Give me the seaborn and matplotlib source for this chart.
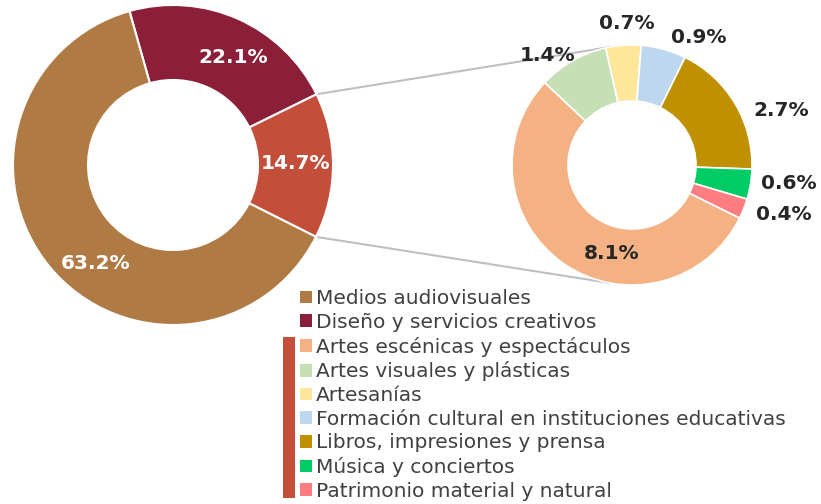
import numpy as np
import matplotlib
matplotlib.use("Agg")
import matplotlib.pyplot as plt
import seaborn as sns
from matplotlib.patches import Patch, Rectangle

# Main split (left donut), clockwise from the top
main_names = ["Diseño y servicios creativos", "Otros sectores", "Medios audiovisuales"]
main_values = [22.1, 14.7, 63.2]
main_colors = ["#8B1E38", "#C34F3B", "#B07A44"]

# Breakdown of the 14.7% slice (right donut), clockwise from upper left
sub_names = ["Artes visuales y plásticas", "Artesanías",
             "Formación cultural en instituciones educativas",
             "Libros, impresiones y prensa", "Música y conciertos",
             "Patrimonio material y natural", "Artes escénicas y espectáculos"]
sub_values = [1.4, 0.7, 0.9, 2.7, 0.6, 0.4, 8.1]
sub_colors = ["#C5E0B4", "#FFE699", "#BDD7EE", "#BF9000", "#00CC66",
              "#FF7C80", "#F4B183"]

legend_order = ["Medios audiovisuales", "Diseño y servicios creativos",
                "Artes escénicas y espectáculos", "Artes visuales y plásticas",
                "Artesanías", "Formación cultural en instituciones educativas",
                "Libros, impresiones y prensa", "Música y conciertos",
                "Patrimonio material y natural"]

sns.set_theme(style="white")
plt.rcParams["font.family"] = ["DejaVu Sans"]

W, H = 821, 504
fig = plt.figure(figsize=(W / 100, H / 100), dpi=100)
ax = fig.add_axes([0, 0, 1, 1])

left_c, left_r, left_w = (173, H - 165), 160, 75
right_c, right_r, right_w = (632, H - 165), 120, 56

wl, _ = ax.pie(main_values, colors=main_colors, startangle=105.8,
               counterclock=False, center=left_c, radius=left_r,
               wedgeprops=dict(width=left_w, edgecolor="white", linewidth=1.5))
wr, _ = ax.pie(sub_values, colors=sub_colors, startangle=136.7,
               counterclock=False, center=right_c, radius=right_r,
               wedgeprops=dict(width=right_w, edgecolor="white", linewidth=1.2))

ax.set_xlim(0, W)
ax.set_ylim(0, H)
ax.axis("off")

# connector lines from the 14.7% slice to the breakdown donut
other = wl[1]
for ang_l, ang_r in [(other.theta2, 100), (other.theta1, 260)]:
    a, b = np.deg2rad(ang_l), np.deg2rad(ang_r)
    x0 = left_c[0] + left_r * np.cos(a)
    y0 = left_c[1] + left_r * np.sin(a)
    x1 = right_c[0] + right_r * np.cos(b)
    y1 = right_c[1] + right_r * np.sin(b)
    ax.plot([x0, x1], [y0, y1], color="#BFBFBF", lw=1.5, zorder=0)

# labels inside the left ring (nudges in screen pixels, +y = down)
left_nudge = [(10, 4), (0, -2), (17, 20)]
for w, v, (dx, dy) in zip(wl, main_values, left_nudge):
    m = np.deg2rad((w.theta1 + w.theta2) / 2)
    rr = left_r - left_w / 2
    ax.text(left_c[0] + rr * np.cos(m) + dx, left_c[1] + rr * np.sin(m) - dy,
            f"{v:.1f}%", color="white", fontsize=14.5, fontweight="bold",
            ha="center", va="center")

# labels of the right donut
right_nudge = [(7, 11), (4, -4), (5, 5), (12, 11), (3, -2), (5, 3), (0, -1)]
for i, (w, v, (dx, dy)) in enumerate(zip(wr, sub_values, right_nudge)):
    m = np.deg2rad((w.theta1 + w.theta2) / 2)
    if i == len(sub_values) - 1:
        m = np.deg2rad(-102.8)
        rr = right_r - right_w / 2
        px, py = right_c[0] + rr * np.cos(m), right_c[1] + rr * np.sin(m)
        ha, va = "center", "center"
    else:
        rr = right_r + 8
        px, py = right_c[0] + rr * np.cos(m), right_c[1] + rr * np.sin(m)
        c, s = np.cos(m), np.sin(m)
        ha = "left" if c > 0.25 else ("right" if c < -0.25 else "center")
        va = "bottom" if s > 0.6 else ("top" if s < -0.6 else "center")
    ax.text(px + dx, py - dy, f"{v:.1f}%", color="#262626", fontsize=14.5,
            fontweight="bold", ha=ha, va=va)

# legend
color_map = dict(zip(main_names + sub_names, main_colors + sub_colors))
handles = [Patch(facecolor=color_map[n], edgecolor="none", label=n)
           for n in legend_order]
fig.legend(handles=handles, loc="upper left",
           bbox_to_anchor=(290 / W, 1 - 279 / H), frameon=False,
           fontsize=14.5, handlelength=0.6, handleheight=0.6,
           handletextpad=0.2, labelspacing=0.235, borderpad=0,
           labelcolor="#404040")

# bracket bar for the breakdown entries
ax.add_patch(Rectangle((283, H - 498), 12, 161, facecolor="#C34F3B",
                       edgecolor="none", transform=ax.transData))

fig.savefig("out.png", dpi=100)
